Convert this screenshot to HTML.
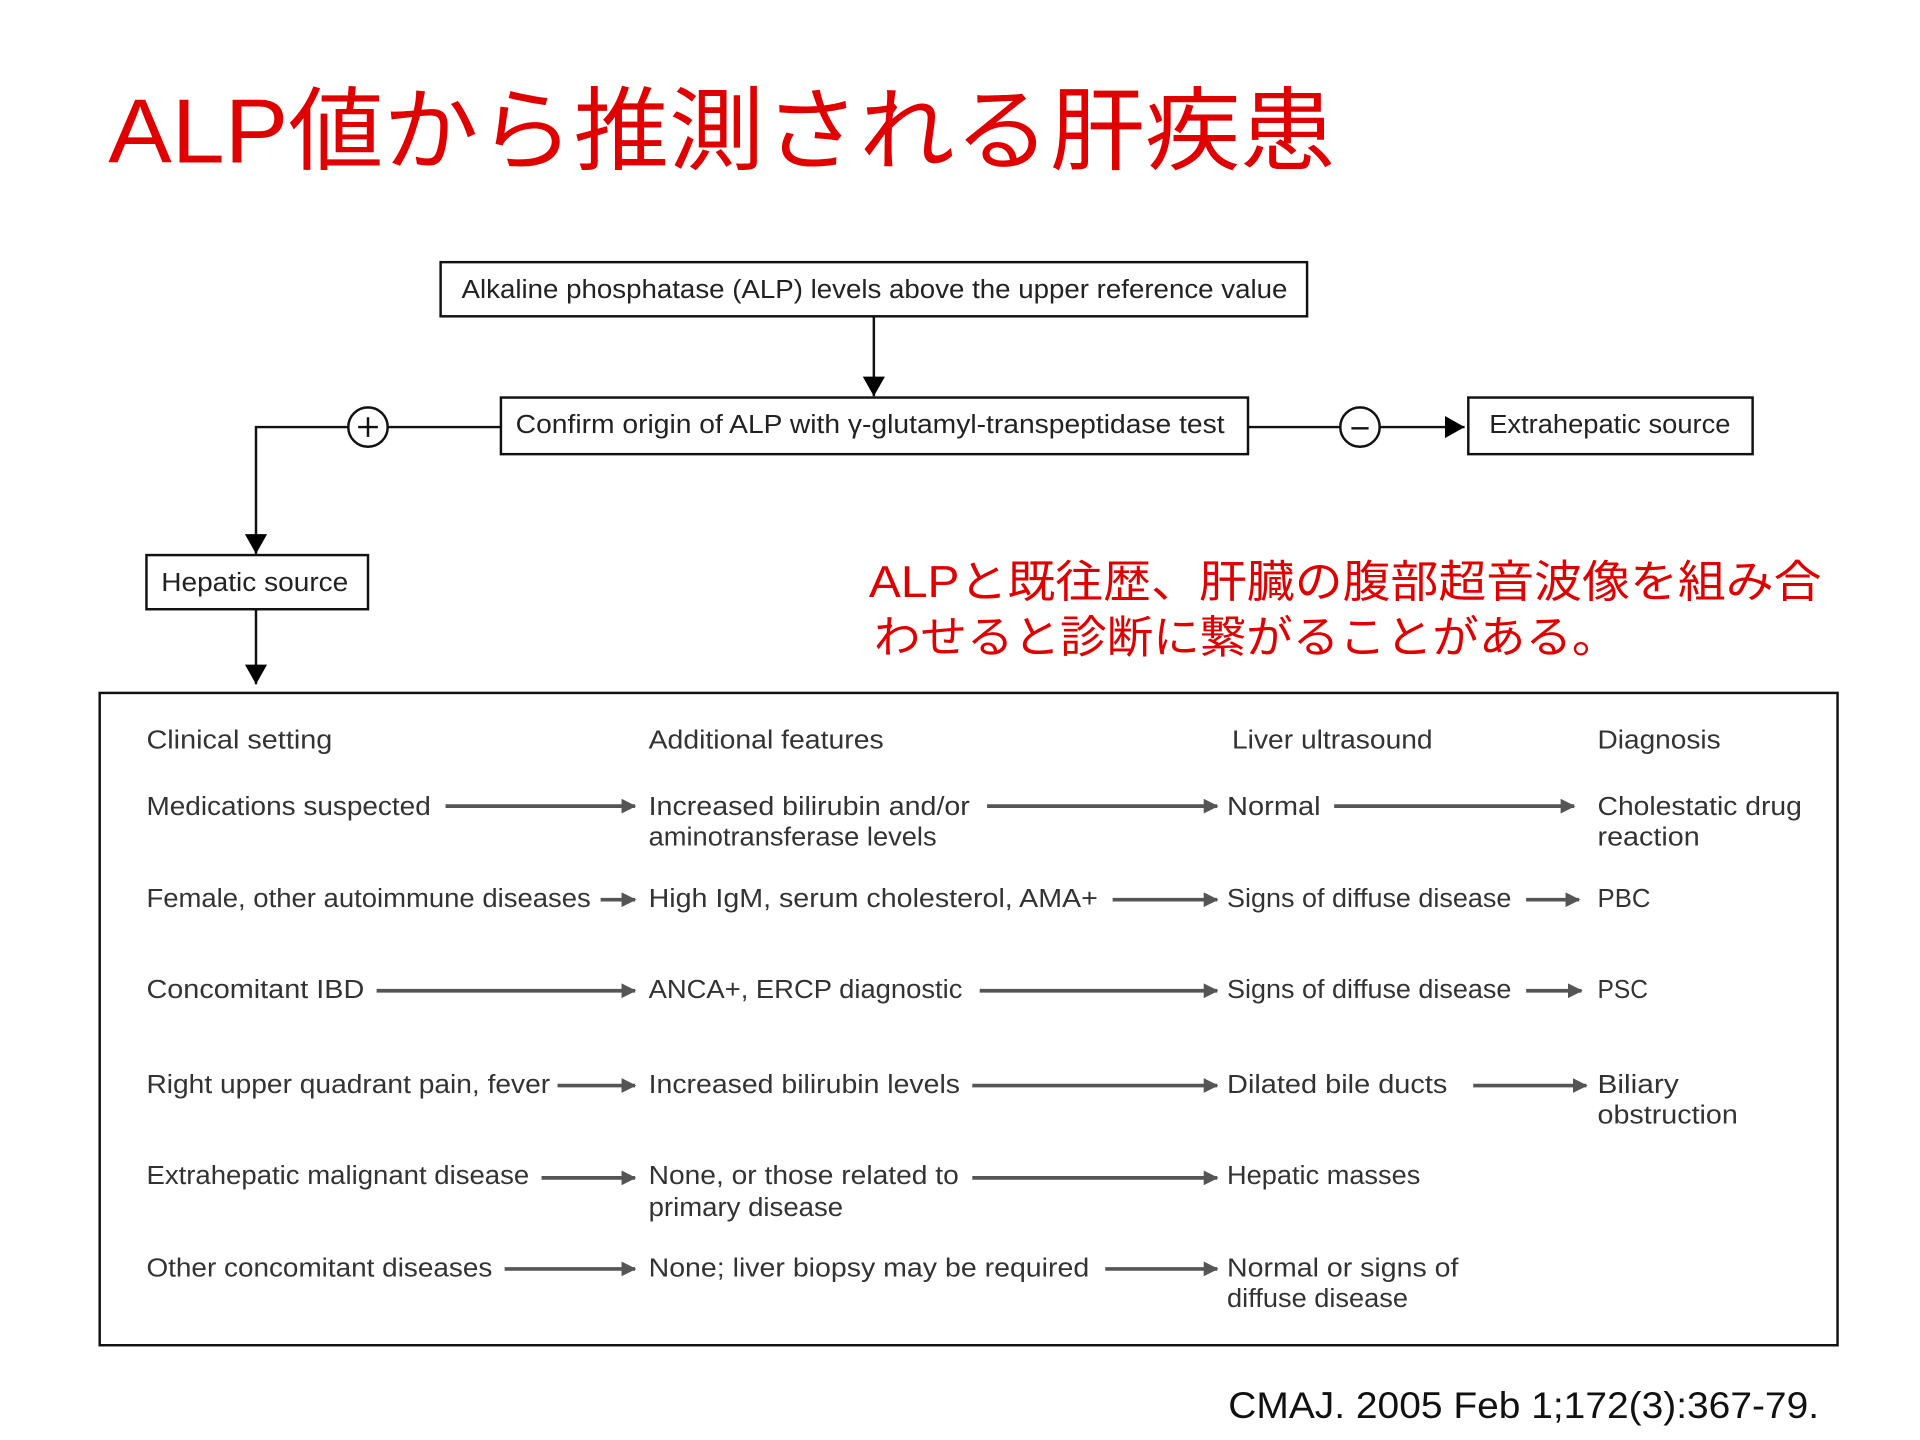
<!DOCTYPE html>
<html><head><meta charset="utf-8"><style>html,body{margin:0;padding:0;background:#fff;}svg{display:block}</style></head>
<body>
<svg width="1920" height="1440" viewBox="0 0 1560 1170" xmlns="http://www.w3.org/2000/svg">
<defs>
<marker id="ab" markerWidth="10" markerHeight="10" refX="9" refY="5" orient="auto" markerUnits="userSpaceOnUse"><path d="M0,0 L10,5 L0,10 z" fill="#000"/></marker>
<marker id="bb" markerWidth="16" markerHeight="18" refX="16" refY="9" orient="auto" markerUnits="userSpaceOnUse"><path d="M0,0 L16,9 L0,18 z" fill="#000"/></marker>
<marker id="ga" markerWidth="12" markerHeight="12" refX="11" refY="6" orient="auto" markerUnits="userSpaceOnUse"><path d="M0,0 L12,6 L0,12 z" fill="#555"/></marker>
</defs>
<text x="88" y="132" font-family="Liberation Sans, Noto Sans CJK JP, sans-serif" font-size="74" fill="#e00000" textLength="997" lengthAdjust="spacingAndGlyphs">ALP値から推測される肝疾患</text>

<g fill="none" stroke="#111" stroke-width="2">
<rect x="358" y="213" width="704" height="44"/>
<rect x="407" y="323" width="607" height="46"/>
<rect x="1193" y="323" width="231" height="46"/>
<rect x="119" y="451" width="180" height="44"/>
<rect x="81" y="563" width="1412" height="530"/>
<circle cx="299" cy="347" r="16"/>
<circle cx="1105" cy="347" r="16"/>
</g>
<g stroke="#111" stroke-width="2" fill="none">
<line x1="710" y1="257" x2="710" y2="322" marker-end="url(#bb)"/>
<polyline points="283,347 208,347 208,450" marker-end="url(#bb)"/>
<line x1="315" y1="347" x2="407" y2="347"/>
<line x1="1014" y1="347" x2="1089" y2="347"/>
<line x1="1121" y1="347" x2="1190" y2="347" marker-end="url(#bb)"/>
<line x1="208" y1="495" x2="208" y2="556" marker-end="url(#bb)"/>
<line x1="291" y1="347" x2="307" y2="347"/><line x1="299" y1="339" x2="299" y2="355"/>
<line x1="1098" y1="348" x2="1112" y2="348"/>
</g>
<g font-family="Liberation Sans, sans-serif" font-size="21" fill="#222" lengthAdjust="spacingAndGlyphs">
<text x="375" y="242" textLength="671" lengthAdjust="spacingAndGlyphs">Alkaline phosphatase (ALP) levels above the upper reference value</text>
<text x="419" y="352" textLength="576" lengthAdjust="spacingAndGlyphs">Confirm origin of ALP with γ-glutamyl-transpeptidase test</text>
<text x="1210" y="352" textLength="196" lengthAdjust="spacingAndGlyphs">Extrahepatic source</text>
<text x="131" y="480" textLength="152" lengthAdjust="spacingAndGlyphs">Hepatic source</text>
</g>
<g font-family="Liberation Sans, Noto Sans CJK JP, sans-serif" font-size="36" fill="#e00000">
<text x="706" y="485" textLength="774" lengthAdjust="spacingAndGlyphs">ALPと既往歴、肝臓の腹部超音波像を組み合</text>
<text x="710" y="530" textLength="605" lengthAdjust="spacingAndGlyphs">わせると診断に繋がることがある。</text>
</g>
<g font-family="Liberation Sans, sans-serif" font-size="21" fill="#333">
<text x="119" y="608" textLength="151" lengthAdjust="spacingAndGlyphs">Clinical setting</text>
<text x="527" y="608" textLength="191" lengthAdjust="spacingAndGlyphs">Additional features</text>
<text x="1001" y="608" textLength="163" lengthAdjust="spacingAndGlyphs">Liver ultrasound</text>
<text x="1298" y="608" textLength="100" lengthAdjust="spacingAndGlyphs">Diagnosis</text>

<text x="119" y="662" textLength="231" lengthAdjust="spacingAndGlyphs">Medications suspected</text>
<text x="527" y="662" textLength="261" lengthAdjust="spacingAndGlyphs">Increased bilirubin and/or</text>
<text x="527" y="687" textLength="234" lengthAdjust="spacingAndGlyphs">aminotransferase levels</text>
<text x="997" y="662" textLength="76" lengthAdjust="spacingAndGlyphs">Normal</text>
<text x="1298" y="662" textLength="166" lengthAdjust="spacingAndGlyphs">Cholestatic drug</text>
<text x="1298" y="687" textLength="83" lengthAdjust="spacingAndGlyphs">reaction</text>

<text x="119" y="737" textLength="361" lengthAdjust="spacingAndGlyphs">Female, other autoimmune diseases</text>
<text x="527" y="737" textLength="365" lengthAdjust="spacingAndGlyphs">High IgM, serum cholesterol, AMA+</text>
<text x="997" y="737" textLength="231" lengthAdjust="spacingAndGlyphs">Signs of diffuse disease</text>
<text x="1298" y="737" textLength="43" lengthAdjust="spacingAndGlyphs">PBC</text>

<text x="119" y="811" textLength="177" lengthAdjust="spacingAndGlyphs">Concomitant IBD</text>
<text x="527" y="811" textLength="255" lengthAdjust="spacingAndGlyphs">ANCA+, ERCP diagnostic</text>
<text x="997" y="811" textLength="231" lengthAdjust="spacingAndGlyphs">Signs of diffuse disease</text>
<text x="1298" y="811" textLength="41" lengthAdjust="spacingAndGlyphs">PSC</text>

<text x="119" y="888" textLength="328" lengthAdjust="spacingAndGlyphs">Right upper quadrant pain, fever</text>
<text x="527" y="888" textLength="253" lengthAdjust="spacingAndGlyphs">Increased bilirubin levels</text>
<text x="997" y="888" textLength="179" lengthAdjust="spacingAndGlyphs">Dilated bile ducts</text>
<text x="1298" y="888" textLength="66" lengthAdjust="spacingAndGlyphs">Biliary</text>
<text x="1298" y="913" textLength="114" lengthAdjust="spacingAndGlyphs">obstruction</text>

<text x="119" y="962" textLength="311" lengthAdjust="spacingAndGlyphs">Extrahepatic malignant disease</text>
<text x="527" y="962" textLength="252" lengthAdjust="spacingAndGlyphs">None, or those related to</text>
<text x="527" y="988" textLength="158" lengthAdjust="spacingAndGlyphs">primary disease</text>
<text x="997" y="962" textLength="157" lengthAdjust="spacingAndGlyphs">Hepatic masses</text>

<text x="119" y="1037" textLength="281" lengthAdjust="spacingAndGlyphs">Other concomitant diseases</text>
<text x="527" y="1037" textLength="358" lengthAdjust="spacingAndGlyphs">None; liver biopsy may be required</text>
<text x="997" y="1037" textLength="188" lengthAdjust="spacingAndGlyphs">Normal or signs of</text>
<text x="997" y="1062" textLength="147" lengthAdjust="spacingAndGlyphs">diffuse disease</text>
</g>
<g stroke="#555" stroke-width="3">
<line x1="362" y1="655" x2="516" y2="655" marker-end="url(#ga)"/>
<line x1="802" y1="655" x2="989" y2="655" marker-end="url(#ga)"/>
<line x1="1084" y1="655" x2="1279" y2="655" marker-end="url(#ga)"/>
<line x1="488" y1="731" x2="516" y2="731" marker-end="url(#ga)"/>
<line x1="904" y1="731" x2="989" y2="731" marker-end="url(#ga)"/>
<line x1="1240" y1="731" x2="1283" y2="731" marker-end="url(#ga)"/>
<line x1="306" y1="805" x2="516" y2="805" marker-end="url(#ga)"/>
<line x1="796" y1="805" x2="989" y2="805" marker-end="url(#ga)"/>
<line x1="1240" y1="805" x2="1285" y2="805" marker-end="url(#ga)"/>
<line x1="453" y1="882" x2="516" y2="882" marker-end="url(#ga)"/>
<line x1="790" y1="882" x2="989" y2="882" marker-end="url(#ga)"/>
<line x1="1197" y1="882" x2="1289" y2="882" marker-end="url(#ga)"/>
<line x1="440" y1="957" x2="516" y2="957" marker-end="url(#ga)"/>
<line x1="790" y1="957" x2="989" y2="957" marker-end="url(#ga)"/>
<line x1="410" y1="1031" x2="516" y2="1031" marker-end="url(#ga)"/>
<line x1="898" y1="1031" x2="989" y2="1031" marker-end="url(#ga)"/>
</g>
<text x="998" y="1152" font-family="Liberation Sans, sans-serif" font-size="30" fill="#111" textLength="480" lengthAdjust="spacingAndGlyphs">CMAJ. 2005 Feb 1;172(3):367-79.</text>
</svg>
</body></html>
